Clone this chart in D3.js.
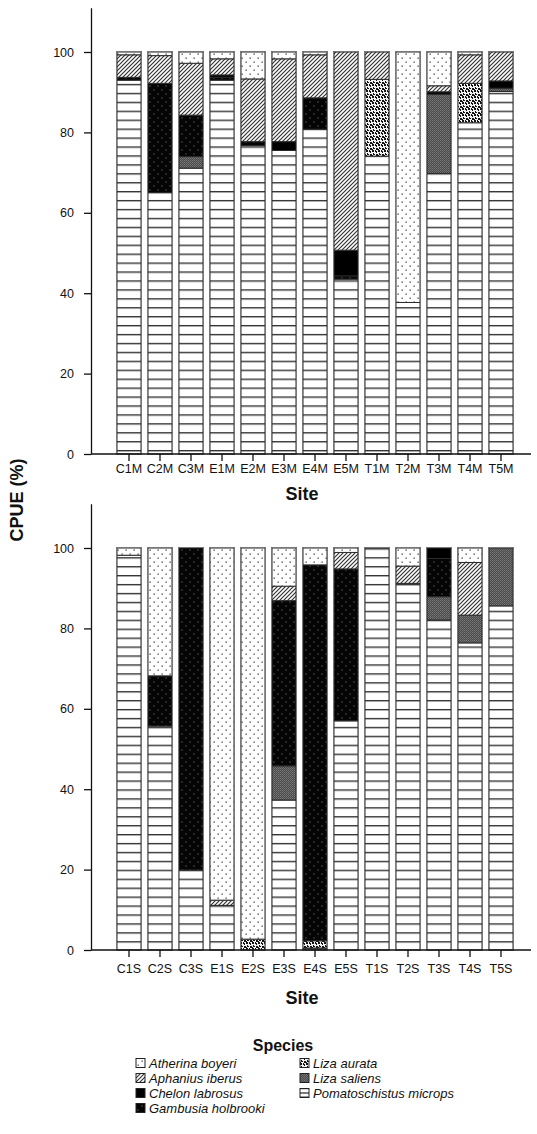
<!DOCTYPE html>
<html>
<head>
<meta charset="utf-8">
<script src="https://cdn.jsdelivr.net/npm/d3@7/dist/d3.min.js"></script>
<style>
  html, body { margin: 0; padding: 0; background: #fff; }
  svg text { font-family: "Liberation Sans", Arial, sans-serif; fill: #111; }
</style>
</head>
<body>
<script>
// Species, stacked from the bottom of each bar upwards
const species = ["Pomatoschistus microps", "Liza saliens", "Liza aurata",
  "Gambusia holbrooki", "Chelon labrosus", "Aphanius iberus", "Atherina boyeri"];

// Upper panel: sites sampled in the marsh (M)
const sitesM = ["C1M","C2M","C3M","E1M","E2M","E3M","E4M","E5M","T1M","T2M","T3M","T4M","T5M"];
const pomatoM   = [93.0, 65.0, 71.1, 93.0, 76.7, 75.5, 80.8, 43.5, 74.1, 37.7, 69.8, 82.4, 90.2];
const salensM   = [0, 0, 2.9, 0, 0, 0, 0, 0, 0, 0, 19.7, 0, 0.8];
const aurataM   = [0, 0, 0, 0, 0, 0, 0, 0, 19.1, 0, 0, 9.8, 0];
const gambusiaM = [0.7, 27.2, 10.3, 0.7, 1.0, 0, 7.8, 0.8, 0, 0, 0, 0, 0];
const chelonM   = [0, 0, 0, 0.6, 0, 2.2, 0, 6.4, 0, 0, 0.6, 0, 1.8];
const aphaniusM = [5.6, 6.9, 12.9, 4.0, 15.6, 20.6, 10.7, 49.3, 6.8, 0, 1.5, 7.1, 7.2];
const atherinaM = [0.7, 0.9, 2.8, 1.7, 6.7, 1.7, 0.7, 0, 0, 62.3, 8.4, 0.7, 0];

// Lower panel: sites sampled in the salt pans (S)
const sitesS = ["C1S","C2S","C3S","E1S","E2S","E3S","E4S","E5S","T1S","T2S","T3S","T4S","T5S"];
const pomatoS   = [98.2, 55.7, 19.9, 11.1, 0, 37.3, 0, 57.0, 100, 91.2, 82.1, 76.4, 85.6];
const salensS   = [0, 0, 0, 0, 0, 8.5, 0.5, 0, 0, 0, 5.8, 6.9, 14.4];
const aurataS   = [0, 0, 0, 0, 2.7, 0, 1.8, 0, 0, 0, 0, 0, 0];
const gambusiaS = [0, 12.5, 80.1, 0, 0, 41.1, 93.5, 37.8, 0, 0, 9.5, 0, 0];
const chelonS   = [0, 0, 0, 0, 0, 0, 0, 0, 0, 0, 2.6, 0, 0];
const aphaniusS = [0, 0, 0, 1.3, 0, 3.6, 0, 4.1, 0, 4.3, 0, 13.1, 0];
const atherinaS = [1.8, 31.8, 0, 87.6, 97.3, 9.5, 4.2, 1.1, 0, 4.5, 0, 3.6, 0];

const yTicks = [0, 20, 40, 60, 80, 100];

// Legend layout: two columns
const legendCol1 = ["Atherina boyeri", "Aphanius iberus", "Chelon labrosus", "Gambusia holbrooki"];
const legendCol2 = ["Liza aurata", "Liza saliens", "Pomatoschistus microps"];

function rows(sites, cols) {
  return sites.map((s, i) => {
    const r = { site: s };
    species.forEach((sp, k) => { r[sp] = cols[k][i]; });
    return r;
  });
}
const dataM = rows(sitesM, [pomatoM, salensM, aurataM, gambusiaM, chelonM, aphaniusM, atherinaM]);
const dataS = rows(sitesS, [pomatoS, salensS, aurataS, gambusiaS, chelonS, aphaniusS, atherinaS]);

const W = 537, H = 1134;
const svg = d3.select("body").append("svg").attr("width", W).attr("height", H);
const defs = svg.append("defs");

// ---- fill patterns ----
function pat(id, w, h, bg) {
  const p = defs.append("pattern").attr("id", id)
    .attr("patternUnits", "userSpaceOnUse").attr("width", w).attr("height", h);
  p.append("rect").attr("width", w).attr("height", h).attr("fill", bg);
  return p;
}
// Atherina: sparse dots on white
{
  const p = pat("p-atherina", 8, 8, "#fff");
  p.append("rect").attr("x", 1.5).attr("y", 1.5).attr("width", 1.3).attr("height", 1.3).attr("fill", "#444");
  p.append("rect").attr("x", 5.5).attr("y", 5.5).attr("width", 1.3).attr("height", 1.3).attr("fill", "#444");
}
// Aphanius: diagonal hatch
{
  const p = pat("p-aphanius", 4, 4, "#fff");
  p.append("path").attr("d", "M-1,1 L1,-1 M0,4 L4,0 M3,5 L5,3")
    .attr("stroke", "#333").attr("stroke-width", 1.2);
}
// Chelon: solid black
pat("p-chelon", 4, 4, "#000");
// Gambusia: sparse light dots on black
{
  const p = pat("p-gambusia", 8, 8, "#050505");
  p.append("rect").attr("x", 1.5).attr("y", 1.5).attr("width", 1).attr("height", 1).attr("fill", "#8a8a8a");
  p.append("rect").attr("x", 5.5).attr("y", 5.5).attr("width", 1).attr("height", 1).attr("fill", "#8a8a8a");
}
// Liza aurata: speckled black blots on white
{
  const p = pat("p-aurata", 6, 6, "#f2f2f2");
  const blots = [[0,0,2,2],[3,1,2,1],[4,2,1,1],[1,3,1,2],[2,4,1,1],[4,4,2,2],[3,0,1,1],[0,5,1,1]];
  blots.forEach(b => p.append("rect").attr("x", b[0]).attr("y", b[1])
    .attr("width", b[2]).attr("height", b[3]).attr("fill", "#141414"));
}
// Liza saliens: fine dark grey checker
{
  const p = pat("p-saliens", 2, 2, "#4a4a4a");
  p.append("rect").attr("x", 0).attr("y", 0).attr("width", 1).attr("height", 1).attr("fill", "#7a7a7a");
  p.append("rect").attr("x", 1).attr("y", 1).attr("width", 1).attr("height", 1).attr("fill", "#6a6a6a");
}
// Pomatoschistus: horizontal rules on white
{
  const p = pat("p-pomato", 8, 8.93, "#fff").attr("y", 3.5);
  p.append("rect").attr("x", 0).attr("y", 0).attr("width", 8).attr("height", 1.4).attr("fill", "#333");
}

const fillFor = {
  "Atherina boyeri": "url(#p-atherina)",
  "Aphanius iberus": "url(#p-aphanius)",
  "Chelon labrosus": "url(#p-chelon)",
  "Gambusia holbrooki": "url(#p-gambusia)",
  "Liza aurata": "url(#p-aurata)",
  "Liza saliens": "url(#p-saliens)",
  "Pomatoschistus microps": "url(#p-pomato)"
};

const stack = d3.stack().keys(species);
const axisX0 = 91, axisX1 = 531;

function panel(data, sites, baseY, labelPad, titleOffset) {
  const y = d3.scaleLinear().domain([0, 111]).range([baseY, baseY - 111 * 4.02]);
  const x = d3.scaleBand().domain(sites).range([113.5, 516.5])
    .paddingInner(0.226).paddingOuter(0.113);
  const g = svg.append("g");

  const series = stack(data);
  series.forEach(s => {
    g.append("g").selectAll("rect").data(s.filter(d => d[1] - d[0] > 0)).join("rect")
      .attr("x", d => x(d.data.site))
      .attr("width", x.bandwidth())
      .attr("y", d => y(d[1]))
      .attr("height", d => y(d[0]) - y(d[1]))
      .attr("fill", fillFor[s.key])
      .attr("stroke", "#2a2a2a").attr("stroke-width", 1);
  });
  // outline of each complete bar
  g.append("g").selectAll("rect").data(data).join("rect")
    .attr("x", d => x(d.site) - 0.5)
    .attr("width", x.bandwidth() + 1)
    .attr("y", d => y(d3.sum(species, k => d[k])) - 0.5)
    .attr("height", d => y(0) - y(d3.sum(species, k => d[k])) + 0.5)
    .attr("fill", "none").attr("stroke", "#777").attr("stroke-width", 1);

  // y axis
  const ya = g.append("g").attr("transform", `translate(${axisX0},0)`)
    .call(d3.axisLeft(y).tickValues(yTicks).tickSize(7).tickSizeOuter(0).tickPadding(10));
  ya.select(".domain").attr("stroke", "#111").attr("stroke-width", 1.3);
  ya.selectAll(".tick line").attr("stroke", "#111").attr("stroke-width", 1.3);
  ya.selectAll(".tick text").attr("font-size", 12.5).attr("fill", "#111")
    .attr("font-family", "Liberation Sans, Arial, sans-serif");

  // x axis
  const xa = g.append("g").attr("transform", `translate(0,${baseY})`)
    .call(d3.axisBottom(x).tickSize(7).tickPadding(labelPad));
  xa.select(".domain").remove();
  xa.selectAll(".tick line").attr("stroke", "#111").attr("stroke-width", 1.3);
  xa.selectAll(".tick text").attr("font-size", 12.5).attr("fill", "#111")
    .attr("font-family", "Liberation Sans, Arial, sans-serif");
  g.append("line").attr("x1", axisX0).attr("x2", axisX1).attr("y1", baseY).attr("y2", baseY)
    .attr("stroke", "#111").attr("stroke-width", 1.3);

  g.append("text").attr("x", 302).attr("y", baseY + titleOffset)
    .attr("text-anchor", "middle").attr("font-size", 18).attr("font-weight", "bold")
    .text("Site");
}

panel(dataM, sitesM, 454, 3, 46);
panel(dataS, sitesS, 950, 7, 54);

// shared y title
svg.append("text")
  .attr("transform", "translate(23,500) rotate(-90)")
  .attr("text-anchor", "middle").attr("font-size", 18).attr("font-weight", "bold")
  .text("CPUE (%)");

// legend
svg.append("text").attr("x", 283).attr("y", 1051).attr("text-anchor", "middle")
  .attr("font-size", 16).attr("font-weight", "bold").text("Species");

function legendColumn(names, sx, tx) {
  const lg = svg.append("g");
  const items = lg.selectAll("g").data(names).join("g")
    .attr("transform", (d, i) => `translate(0,${1063 + i * 15})`);
  items.append("rect").attr("x", sx).attr("y", -4.5).attr("width", 9).attr("height", 9)
    .attr("fill", d => fillFor[d]).attr("stroke", "#222").attr("stroke-width", 1);
  // the striped swatch shows a single middle rule
  items.filter(d => d === "Pomatoschistus microps").append("line")
    .attr("x1", sx).attr("x2", sx + 9).attr("y1", 0).attr("y2", 0)
    .attr("stroke", "#222").attr("stroke-width", 1.2);
  items.append("text").attr("x", tx).attr("y", 4.5)
    .attr("font-size", 13).attr("font-style", "italic").text(d => d);
}
legendColumn(legendCol1, 136, 149);
legendColumn(legendCol2, 300, 313);
</script>
</body>
</html>
